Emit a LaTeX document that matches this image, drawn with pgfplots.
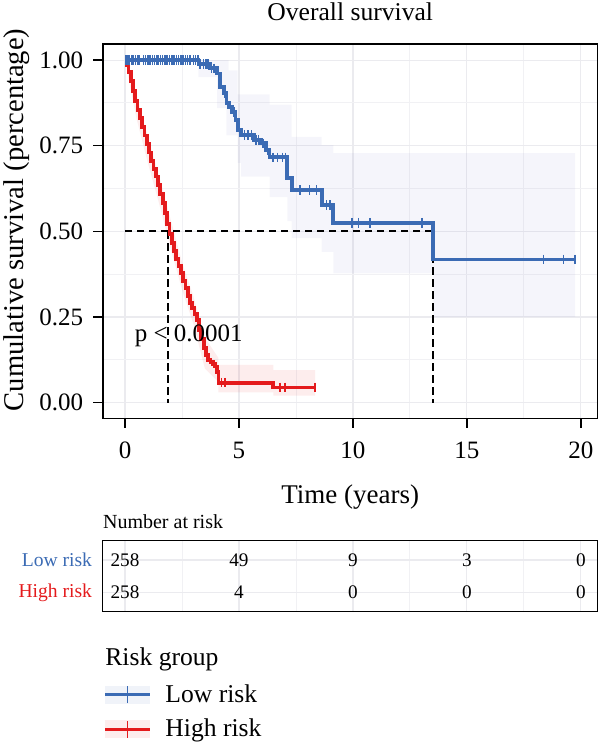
\documentclass[border=0pt]{standalone}
\usepackage{fontspec}
\setmainfont{Liberation Serif}
\usepackage{pgfplots}
\pgfplotsset{compat=1.18}
\usepgfplotslibrary{fillbetween}
\definecolor{lowc}{HTML}{3B6BB4}
\definecolor{highc}{HTML}{E41A1C}
\definecolor{bandc}{HTML}{5050B0}
\definecolor{gridc}{HTML}{EBEBEF}
\begin{document}
\begin{tikzpicture}
\begin{axis}[
  name=main,
  at={(51.35pt,-209.15pt)}, anchor=south west,
  width=247.5pt, height=187.15pt, scale only axis,
  xmin=-0.98, xmax=20.74, ymin=-0.046, ymax=1.047,
  xtick={0,5,10,15,20}, ytick={0,0.25,0.5,0.75,1},
  yticklabels={0.00,0.25,0.50,0.75,1.00},
  minor xtick={2.5,7.5,12.5,17.5}, minor ytick={0.125,0.375,0.625,0.875},
  grid=both,
  major grid style={gridc, line width=0.6pt},
  minor grid style={gridc!70, line width=0.45pt},
  tick align=outside, major tick length=4.7pt, minor tick length=0pt,
  xtick pos=lower, ytick pos=left,
  tick style={black, line width=0.7pt},
  axis line style={line width=0.8pt},
  /pgf/number format/assume math mode=true,
  ticklabel style={font=\fontsize{12.5}{14}\selectfont},
  xticklabel style={yshift=-3.5pt},
  yticklabel style={xshift=-1.6pt},
  xlabel={Time (years)},
  xlabel style={font=\fontsize{13.5}{16}\selectfont, at={(axis description cs:0.5,-0.2263)}, anchor=base},
  ylabel={Cumulative survival (percentage)},
  ylabel style={font=\fontsize{14.3}{17}\selectfont, at={(axis description cs:-0.159,0.53)}, anchor=base},
  legend style={at={(axis description cs:0.002,-0.7107)}, anchor=north west, draw=none, fill=none,
    inner sep=0pt, outer sep=0pt, row sep=7pt, column sep=6.8pt,
    nodes={inner sep=0pt}, font=\fontsize{12.8}{15}\selectfont},
  legend cell align=left,
]
% confidence bands
\addplot[draw=none, name path=lu, forget plot] coordinates {(0,1)(4.55,1)(4.55,0.97)(4.94,0.97)(4.94,0.90)(6.34,0.90)(6.34,0.87)(7.31,0.87)(7.31,0.776)(8.63,0.776)(8.63,0.752)(9.14,0.752)(9.14,0.728)(19.75,0.728)};
\addplot[draw=none, name path=ll, forget plot] coordinates {(0,1)(3.22,1)(3.22,0.95)(4.04,0.95)(4.04,0.86)(4.45,0.86)(4.45,0.78)(4.94,0.78)(4.94,0.70)(5.09,0.70)(5.09,0.66)(6.34,0.66)(6.34,0.60)(7.12,0.60)(7.12,0.53)(7.31,0.53)(7.31,0.48)(8.63,0.48)(8.63,0.44)(9.14,0.44)(9.14,0.377)(13.53,0.377)(13.53,0.25)(19.75,0.25)};
\addplot[fill=bandc, fill opacity=0.055, draw=none, forget plot] fill between[of=lu and ll];
\addplot[draw=none, name path=hu, forget plot] coordinates {(0,1)(0.5,0.90)(1.0,0.775)(1.5,0.66)(2.0,0.535)(2.5,0.41)(3.0,0.31)(3.5,0.19)(4.1,0.13)(4.1,0.11)(6.51,0.11)(6.51,0.095)(8.34,0.095)};
\addplot[draw=none, name path=hl, forget plot] coordinates {(0,1)(0.5,0.83)(1.0,0.70)(1.5,0.58)(2.0,0.45)(2.5,0.33)(3.0,0.23)(3.5,0.10)(4.1,0.06)(4.1,0.03)(6.51,0.03)(6.51,0.02)(8.34,0.02)};
\addplot[fill=highc, fill opacity=0.08, draw=none, forget plot] fill between[of=hu and hl];
% median lines
\addplot[black, line width=0.9pt, dash pattern=on 3.6pt off 2.4pt, forget plot] coordinates {(0,0.5)(13.53,0.5)};
\addplot[black, line width=0.9pt, dash pattern=on 3.6pt off 2.4pt, forget plot] coordinates {(1.90,0.5)(1.90,0)};
\addplot[black, line width=0.9pt, dash pattern=on 3.6pt off 2.4pt, forget plot] coordinates {(13.53,0.5)(13.53,0)};
% low risk curve
\addplot[const plot, lowc, line width=1.9pt, forget plot] coordinates {
(0,1)(3.22,0.988)(3.73,0.976)(4.04,0.961)(4.16,0.922)(4.34,0.903)(4.45,0.874)(4.55,0.864)(4.70,0.849)(4.85,0.825)(4.94,0.796)(5.09,0.781)(5.67,0.766)(5.97,0.757)(6.19,0.737)(6.34,0.716)(7.12,0.655)(7.31,0.620)(8.63,0.577)(9.14,0.525)(13.53,0.418)(19.75,0.418)};
\addplot[only marks, mark=|, mark size=2.4pt, lowc, line width=0.75pt, forget plot] coordinates {
(0.05,1)(0.12,1)(0.2,1)(0.3,1)(0.38,1)(0.45,1)(0.55,1)(0.62,1)(0.8,1)(0.9,1)(1.0,1)(1.1,1)(1.2,1)(1.3,1)(1.38,1)(1.45,1)(1.55,1)(1.65,1)(1.75,1)(1.85,1)(1.95,1)(2.05,1)(2.15,1)(2.25,1)(2.35,1)(2.45,1)(2.55,1)(2.65,1)(2.75,1)(2.85,1)(3.0,1)(3.1,1)(3.2,1)
(3.3,0.988)(3.45,0.988)(3.55,0.988)(3.65,0.988)(3.8,0.976)(3.9,0.976)(4.1,0.961)(4.38,0.903)(4.75,0.849)(4.8,0.849)
(5.25,0.781)(5.4,0.781)(5.55,0.781)(5.75,0.766)(5.85,0.766)(6.05,0.757)(6.25,0.737)
(6.5,0.716)(6.7,0.716)(6.9,0.716)(7.05,0.716)(7.68,0.620)(8.09,0.620)(8.41,0.620)(8.85,0.577)(9.0,0.577)
(9.95,0.525)(10.24,0.525)(10.75,0.525)(13.02,0.525)(18.37,0.418)(19.24,0.418)(19.75,0.418)};
% high risk curve
\addplot[const plot, highc, line width=1.9pt, forget plot] coordinates {
(0.00,1.000)(0.08,0.985)(0.15,0.965)(0.25,0.940)(0.35,0.910)(0.45,0.880)(0.55,0.855)(0.65,0.830)(0.75,0.805)(0.85,0.780)(0.95,0.755)(1.05,0.730)(1.15,0.705)(1.25,0.683)(1.35,0.660)(1.45,0.635)(1.55,0.610)(1.65,0.582)(1.75,0.553)(1.85,0.522)(1.95,0.492)(2.05,0.465)(2.15,0.442)(2.25,0.420)(2.35,0.398)(2.45,0.378)(2.55,0.356)(2.65,0.335)(2.75,0.312)(2.85,0.290)(2.95,0.275)(3.05,0.258)(3.15,0.240)(3.25,0.212)(3.35,0.185)(3.45,0.160)(3.55,0.140)(3.65,0.124)(3.75,0.118)(3.85,0.112)(3.95,0.105)(4.05,0.090)(4.10,0.058)(6.51,0.044)(8.34,0.044)};
\addplot[only marks, mark=|, mark size=2.4pt, highc, line width=0.75pt, forget plot] coordinates {
(4.24,0.058)(4.39,0.058)(6.80,0.044)(7.02,0.044)(8.34,0.044)};
\node[anchor=base west, inner sep=0pt, font=\fontsize{12.5}{14}\selectfont] at (axis cs:0.41,0.1775) {p < 0.0001};
% legend
\addlegendimage{legend image code/.code={
  \path[fill=lowc, fill opacity=0.08, draw=none] (0pt,-4.5pt) rectangle (22.5pt,4.5pt);
  \draw[lowc, line width=1.6pt] (0pt,0pt) -- (22.5pt,0pt);
  \draw[lowc, line width=0.7pt] (11.25pt,-4.2pt) -- (11.25pt,4.2pt);}}
\addlegendentry{Low risk}
\addlegendimage{legend image code/.code={
  \path[fill=highc, fill opacity=0.08, draw=none] (0pt,-4.5pt) rectangle (22.5pt,4.5pt);
  \draw[highc, line width=1.6pt] (0pt,0pt) -- (22.5pt,0pt);
  \draw[highc, line width=0.7pt] (11.25pt,-4.2pt) -- (11.25pt,4.2pt);}}
\addlegendentry{High risk}
\end{axis}
\begin{axis}[
  at={(51.35pt,-305.85pt)}, anchor=south west,
  width=247.5pt, height=35.5pt, scale only axis, clip=false,
  xmin=-0.98, xmax=20.74, ymin=0.4, ymax=2.6,
  xtick={0,5,10,15,20}, xticklabels={}, minor xtick={2.5,7.5,12.5,17.5},
  ytick={1,2}, yticklabels={{\color{highc}High risk},{\color{lowc}Low risk}},
  grid=both,
  major grid style={gridc, line width=0.6pt},
  minor grid style={gridc!70, line width=0.45pt},
  major tick length=0pt, minor tick length=0pt,
  axis line style={line width=0.6pt},
  yticklabel style={font=\fontsize{9.8}{11}\selectfont, xshift=-1.8pt},
]
\addplot[draw=none, nodes near coords, point meta=explicit symbolic,
  nodes near coords style={anchor=center, text=black, font=\fontsize{9.6}{11}\selectfont}] coordinates {
(0,2)[258] (5,2)[49] (10,2)[9] (15,2)[3] (20,2)[0]
(0,1)[258] (5,1)[4] (10,1)[0] (15,1)[0] (20,1)[0]};
\node[anchor=base west, inner sep=0pt, yshift=6.2pt, font=\fontsize{10}{11}\selectfont] at (axis description cs:0,1) {Number at risk};
\end{axis}
\node[anchor=base, inner sep=0pt, font=\fontsize{12.8}{15}\selectfont] at (175.1pt,-10.35pt) {Overall survival};
\node[anchor=base west, inner sep=0pt, font=\fontsize{12.8}{15}\selectfont] at (52.5pt,-332.5pt) {Risk group};
\pgfresetboundingbox
\useasboundingbox (0,0) rectangle (300pt,-373pt);
\end{tikzpicture}
\end{document}
